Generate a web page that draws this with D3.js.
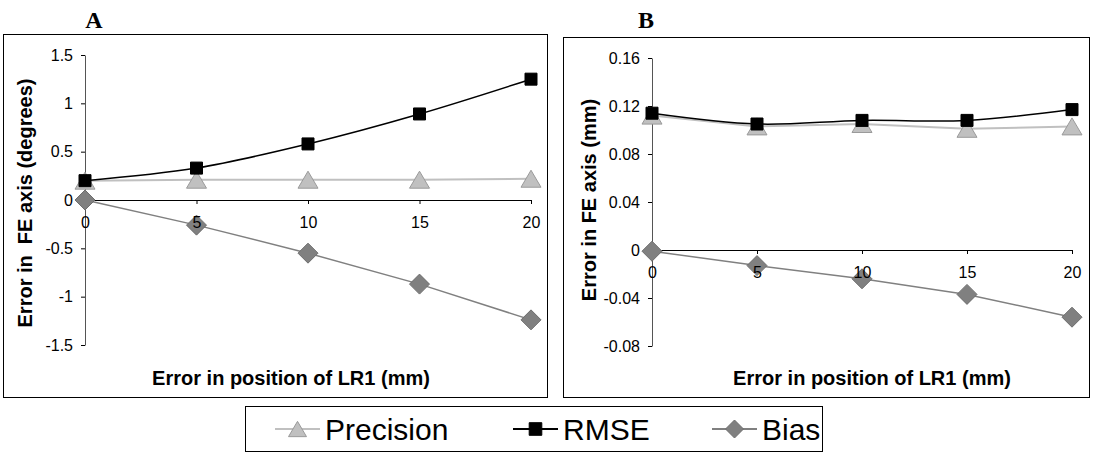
<!DOCTYPE html>
<html>
<head>
<meta charset="utf-8">
<script src="https://cdn.jsdelivr.net/npm/d3@7"></script>
<style>
  body { margin: 0; background: #fff; }
  svg { display: block; font-family: "Liberation Sans", Arial, sans-serif; }
</style>
</head>
<body>
<svg id="chart" width="1094" height="454"></svg>
<script>
// data
const xValues = [0, 5, 10, 15, 20];
const xTicks = [0, 5, 10, 15, 20];

const precisionA = [0.20, 0.21, 0.21, 0.21, 0.22];
const rmseA = [0.20, 0.33, 0.58, 0.89, 1.25];
const biasA = [0, -0.26, -0.55, -0.87, -1.24];
const yTicksA = [-1.5, -1, -0.5, 0, 0.5, 1, 1.5];

const precisionB = [0.112, 0.103, 0.105, 0.101, 0.103];
const rmseB = [0.114, 0.105, 0.108, 0.108, 0.117];
const biasB = [-0.001, -0.013, -0.024, -0.037, -0.056];
const yTicksB = [-0.08, -0.04, 0, 0.04, 0.08, 0.12, 0.16];

const seriesNames = ["Precision", "RMSE", "Bias"];

const svg = d3.select("#chart");

const styles = {
    Precision: { line: "#c0c0c0", fill: "#c0c0c0", stroke: "#9a9a9a", width: 2, curve: d3.curveLinear },
    RMSE: { line: "#000", fill: "#000", stroke: "#000", width: 1.5, curve: d3.curveCatmullRom },
    Bias: { line: "#808080", fill: "#808080", stroke: "#6e6e6e", width: 1.5, curve: d3.curveLinear }
};

// marker shapes (Excel-like)
function marker(name, s) {
    if (name === "Precision") {
        const w = 10 * s, h = 8.5 * s;
        return `M0,${-h}L${w},${h}L${-w},${h}Z`;
    }
    if (name === "RMSE") {
        const a = 6 * s;
        return `M${-a},${-a}H${a}V${a}H${-a}Z`;
    }
    const d = 10 * s;
    return `M0,${-d}L${d},0L0,${d}L${-d},0Z`;
}

function drawPanel(p) {
    const g = svg.append("g");

    g.append("rect")
        .attr("x", p.box[0] + 0.5).attr("y", p.box[1] + 0.5)
        .attr("width", p.box[2] - p.box[0]).attr("height", p.box[3] - p.box[1])
        .attr("fill", "none").attr("stroke", "#000").attr("stroke-width", 1);

    svg.append("text")
        .attr("x", p.labelX).attr("y", 28)
        .attr("text-anchor", "middle")
        .style("font-family", "'Liberation Serif', 'Times New Roman', serif")
        .style("font-weight", "bold").style("font-size", "24px")
        .text(p.label);

    const x = d3.scaleLinear().domain([0, 20]).range(p.xRange);
    const y = d3.scaleLinear().domain(p.yDomain).range(p.yRange);

    const yAxis = g.append("g")
        .attr("transform", `translate(${x(0)},0)`)
        .call(d3.axisLeft(y).tickValues(p.yTicks).tickSize(4).tickSizeOuter(0)
            .tickPadding(8).tickFormat(d => String(d)));

    const xAxis = g.append("g")
        .attr("transform", `translate(0,${y(0)})`)
        .call(d3.axisBottom(x).tickValues(xTicks).tickSize(4).tickSizeOuter(0)
            .tickPadding(13).tickFormat(d => String(d)));

    [yAxis, xAxis].forEach(a => {
        a.selectAll("path, line").attr("stroke", "#000");
        a.selectAll("text").style("font-size", "16px").attr("fill", "#000")
            .style("font-family", "'Liberation Sans', Arial, sans-serif");
    });
    yAxis.select(".domain").attr("stroke", "#555");

    // axis titles
    g.append("text")
        .attr("x", p.xTitleX).attr("y", 385)
        .attr("text-anchor", "middle")
        .style("font-weight", "bold").style("font-size", "20px")
        .text("Error in position of LR1 (mm)");

    g.append("text")
        .attr("transform", `translate(${p.yTitleX},${p.yTitleY}) rotate(-90)`)
        .attr("text-anchor", "middle")
        .style("font-weight", "bold").style("font-size", "20px")
        .style("white-space", "pre")
        .text(p.yTitle);

    const series = [
        { name: "Precision", values: p.precision },
        { name: "Bias", values: p.bias },
        { name: "RMSE", values: p.rmse }
    ];

    series.forEach(s => {
        const st = styles[s.name];
        const pts = xValues.map((xv, i) => [x(xv), y(s.values[i])]);
        g.append("path")
            .attr("d", d3.line().curve(st.curve)(pts))
            .attr("fill", "none")
            .attr("stroke", st.line)
            .attr("stroke-width", st.width);
    });

    series.forEach(s => {
        const st = styles[s.name];
        g.selectAll(null)
            .data(xValues.map((xv, i) => [x(xv), y(s.values[i])]))
            .enter().append("path")
            .attr("transform", d => `translate(${d[0]},${d[1]})`)
            .attr("d", marker(s.name, 1))
            .attr("fill", st.fill)
            .attr("stroke", st.stroke)
            .attr("stroke-width", 1);
    });

    // x tick labels sit above the markers, as in the original
    const labels = g.append("g").attr("transform", `translate(0,${y(0)})`);
    xAxis.selectAll(".tick").each(function () {
        const tick = d3.select(this);
        const t = tick.select("text");
        labels.append("text")
            .attr("transform", tick.attr("transform"))
            .attr("y", t.attr("y")).attr("dy", t.attr("dy"))
            .attr("text-anchor", "middle")
            .style("font-size", "16px")
            .text(t.text());
        t.remove();
    });
}

drawPanel({
    label: "A", labelX: 94,
    box: [3, 34, 547, 397],
    xRange: [85, 531],
    yDomain: [-1.5, 1.5], yRange: [345, 55], yTicks: yTicksA,
    precision: precisionA, rmse: rmseA, bias: biasA,
    xTitleX: 291,
    yTitle: "Error in  FE axis (degrees)", yTitleX: 32, yTitleY: 203
});

drawPanel({
    label: "B", labelX: 646,
    box: [563, 37, 1089, 397],
    xRange: [652, 1072],
    yDomain: [-0.08, 0.16], yRange: [346, 58], yTicks: yTicksB,
    precision: precisionB, rmse: rmseB, bias: biasB,
    xTitleX: 872,
    yTitle: "Error in FE axis (mm)", yTitleX: 596, yTitleY: 200
});

// legend
const legend = svg.append("g");
legend.append("rect")
    .attr("x", 245.5).attr("y", 406.5).attr("width", 577).attr("height", 45)
    .attr("fill", "#fff").attr("stroke", "#000");

const legendX = { Precision: 275, RMSE: 513, Bias: 712 };
seriesNames.forEach(name => {
    const st = styles[name];
    const x0 = legendX[name];
    const item = legend.append("g").attr("transform", `translate(${x0},429)`);
    item.append("line").attr("x1", 0).attr("x2", 45)
        .attr("stroke", st.line).attr("stroke-width", 2);
    item.append("path")
        .attr("transform", "translate(22.5,0)")
        .attr("d", marker(name, name === "RMSE" ? 1.05 : 0.9))
        .attr("fill", st.fill).attr("stroke", st.stroke);
    item.append("text")
        .attr("x", 50).attr("y", 11)
        .style("font-size", "30px")
        .text(name);
});
</script>
</body>
</html>
